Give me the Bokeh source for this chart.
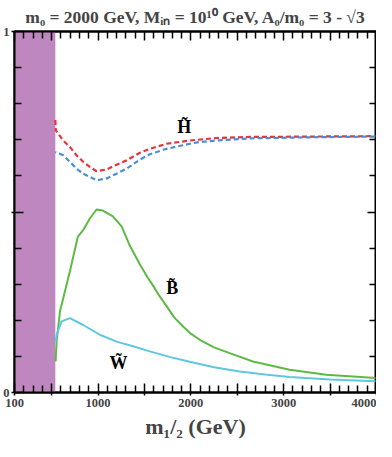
from bokeh.plotting import figure
from bokeh.models import FixedTicker, LinearAxis, Range1d
from bokeh.core.properties import value
from bokeh.embed import file_html
from bokeh.resources import INLINE

# ---- data ----
band_x = [100, 540]

h_red_x = [540, 545, 625, 697, 769, 840, 912, 984, 1092, 1200, 1307, 1450, 1558, 1737, 1988, 2275, 2634, 2813, 3300, 3957, 4000]
h_red_y = [0.755, 0.726, 0.698, 0.680, 0.657, 0.639, 0.625, 0.613, 0.618, 0.631, 0.643, 0.664, 0.675, 0.689, 0.698, 0.705, 0.708, 0.708, 0.709, 0.710, 0.710]

h_blue_x = [540, 625, 697, 769, 840, 912, 984, 1092, 1200, 1307, 1450, 1558, 1737, 1988, 2096, 2275, 2634, 3300, 4000]
h_blue_y = [0.666, 0.657, 0.639, 0.620, 0.606, 0.597, 0.588, 0.593, 0.606, 0.620, 0.645, 0.660, 0.675, 0.689, 0.694, 0.698, 0.704, 0.707, 0.709]

b_x = [543, 554, 590, 643, 697, 729, 783, 837, 912, 984, 1052, 1160, 1254, 1342, 1450, 1536, 1593, 1650, 1737, 1820, 1916, 2000, 2096, 2250, 2418, 2669, 3064, 3459, 3997]
b_y = [0.086, 0.142, 0.225, 0.280, 0.336, 0.372, 0.432, 0.449, 0.482, 0.507, 0.504, 0.488, 0.460, 0.407, 0.355, 0.318, 0.296, 0.272, 0.240, 0.208, 0.183, 0.163, 0.146, 0.125, 0.109, 0.086, 0.063, 0.049, 0.040]

w_x = [540, 560, 608, 697, 840, 1020, 1200, 1378, 1558, 1780, 1988, 2250, 2526, 2800, 3064, 3500, 3997]
w_y = [0.140, 0.165, 0.197, 0.206, 0.187, 0.160, 0.141, 0.128, 0.114, 0.098, 0.085, 0.070, 0.058, 0.050, 0.043, 0.036, 0.031]

label_text = ["H\u0303", "B\u0303", "W\u0303"]
label_x = [1930, 1800, 1220]
label_y = [0.735, 0.289, 0.081]

x_major = [100, 500, 1000, 1500, 2000, 2500, 3000, 3500, 4000]
x_minor = [200, 300, 400, 600, 700, 800, 900, 1100, 1200, 1300, 1400, 1600, 1700, 1800, 1900,
           2100, 2200, 2300, 2400, 2600, 2700, 2800, 2900, 3100, 3200, 3300, 3400, 3600, 3700, 3800, 3900]
x_labels = {100: "100", 1000: "1000", 2000: "2000", 3000: "3000", 4000: "4000"}
y_major = [0, 0.5, 1]
y_minor = [0.1, 0.2, 0.3, 0.4, 0.6, 0.7, 0.8, 0.9]
y_labels = {0: "0", 1: "1"}

title_text = "m\u2080 = 2000 GeV, M\u1d62\u2099 = 10\u00b9\u2070 GeV, A\u2080/m\u2080 = 3 - \u221a3"
xlabel_text = "m\u2081/\u2082 (GeV)"

FONT = "Liberation Serif"

p = figure(width=376, height=441, output_backend="svg", toolbar_location=None,
           x_range=Range1d(100, 4000), y_range=Range1d(0, 1),
           min_border_left=4, min_border_right=0, min_border_top=4, min_border_bottom=0)

p.title.text = title_text
p.title.text_font = FONT
p.title.text_font_style = "bold"
p.title.text_font_size = "17.5px"
p.title.align = "center"
p.title.offset = 0
p.title.standoff = 9

p.xgrid.visible = False
p.ygrid.visible = False
p.outline_line_color = "black"
p.outline_line_width = 2
p.background_fill_color = "white"
p.border_fill_color = "white"

# band
p.quad(left=band_x[0], right=band_x[1], bottom=0, top=1, fill_color="#bf87bf", line_color=None)

# curves
p.line(h_red_x, h_red_y, line_color="#e8323c", line_width=2.2, line_dash="5 3")
p.line(h_blue_x, h_blue_y, line_color="#4b8ed8", line_width=2.2, line_dash="5 3", line_dash_offset=4)
p.line(b_x, b_y, line_color="#5dba45", line_width=2)
p.line(w_x, w_y, line_color="#5ec8dc", line_width=2)

p.text(x=label_x, y=label_y, text=label_text, text_font=value(FONT), text_font_style="bold",
       text_font_size="18px", text_align="center", text_baseline="middle", text_color="black")

def style_axis(ax, major, minor, labels, show_labels=True):
    ax.ticker = FixedTicker(ticks=major, minor_ticks=minor)
    ax.major_label_overrides = {k: labels.get(k, "") for k in major}
    ax.axis_line_width = 2
    ax.axis_line_color = "black"
    ax.major_tick_in = 9
    ax.major_tick_out = 3
    ax.minor_tick_in = 7
    ax.minor_tick_out = 0
    ax.major_tick_line_width = 1.5
    ax.minor_tick_line_width = 1.5
    ax.major_tick_line_color = "black"
    ax.minor_tick_line_color = "black"
    ax.major_label_text_font = FONT
    ax.major_label_text_font_style = "bold"
    ax.major_label_text_font_size = "12.5px"
    ax.major_label_standoff = 3
    if not show_labels:
        ax.major_label_text_color = None
        ax.major_label_text_font_size = "0px"
        ax.major_label_standoff = 0
        ax.major_tick_out = 0

style_axis(p.xaxis[0], x_major, x_minor, x_labels)
style_axis(p.yaxis[0], y_major, y_minor, y_labels)
p.yaxis[0].major_label_standoff = 2
p.xaxis[0].axis_label = xlabel_text
p.xaxis[0].axis_label_text_font = FONT
p.xaxis[0].axis_label_text_font_style = "bold"
p.xaxis[0].axis_label_text_font_size = "22px"
p.xaxis[0].axis_label_standoff = 4

top = LinearAxis()
style_axis(top, x_major, x_minor, x_labels, show_labels=False)
p.add_layout(top, "above")
right = LinearAxis()
style_axis(right, y_major, y_minor, y_labels, show_labels=False)
p.add_layout(right, "right")

open("out.html", "w").write(file_html(p, INLINE))
